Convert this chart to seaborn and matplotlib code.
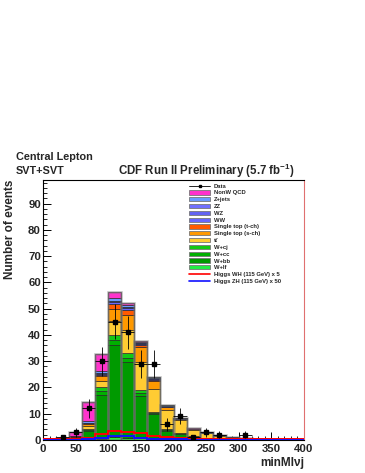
import numpy as np
import pandas as pd
import matplotlib
matplotlib.use("Agg")
import matplotlib.pyplot as plt
import seaborn as sns
from matplotlib.patches import Patch
from matplotlib.lines import Line2D
from matplotlib.ticker import MultipleLocator

# ---------------- data ----------------
bin_edges = list(range(0, 420, 20))
bin_centers = [10 + 20 * i for i in range(20)]

w_lf  = [0.00, 0.00, 0.05, 0.10, 0.50, 1.00, 0.90, 0.70, 0.40, 0.20, 0.10, 0.05, 0.05, 0.03, 0.02, 0.00, 0.00, 0.00, 0.00, 0.00]
w_bb  = [0.05, 0.20, 0.80, 3.50, 16.7, 35.1, 28.9, 16.0, 9.50, 3.30, 2.20, 1.20, 0.70, 0.45, 0.30, 0.15, 0.10, 0.05, 0.03, 0.02]
w_cc  = [0.00, 0.05, 0.10, 0.30, 1.30, 1.90, 1.60, 1.10, 0.45, 0.40, 0.20, 0.10, 0.05, 0.04, 0.03, 0.02, 0.00, 0.00, 0.00, 0.00]
w_cj  = [0.00, 0.00, 0.10, 0.30, 1.50, 2.00, 1.60, 1.20, 0.45, 0.40, 0.20, 0.10, 0.05, 0.04, 0.03, 0.02, 0.00, 0.00, 0.00, 0.00]
ttbar = [0.02, 0.05, 0.15, 1.00, 2.50, 5.40, 8.80, 10.8, 8.80, 7.20, 4.80, 2.40, 1.70, 1.10, 0.75, 0.35, 0.20, 0.12, 0.08, 0.05]
stop_s = [0.00, 0.00, 0.10, 0.80, 1.80, 4.60, 5.70, 5.70, 3.00, 1.00, 0.50, 0.30, 0.20, 0.12, 0.08, 0.04, 0.03, 0.03, 0.01, 0.01]
stop_t = [0.00, 0.00, 0.05, 0.30, 0.50, 1.70, 2.00, 0.60, 0.40, 0.20, 0.10, 0.05, 0.03, 0.02, 0.01, 0.00, 0.00, 0.00, 0.00, 0.00]
ww    = [0.00, 0.00, 0.05, 0.20, 0.40, 0.80, 0.70, 0.50, 0.30, 0.20, 0.10, 0.05, 0.03, 0.02, 0.02, 0.01, 0.00, 0.00, 0.00, 0.00]
wz    = [0.00, 0.00, 0.02, 0.10, 0.30, 0.40, 0.40, 0.30, 0.20, 0.10, 0.05, 0.03, 0.02, 0.01, 0.01, 0.00, 0.00, 0.00, 0.00, 0.00]
zz    = [0.00, 0.00, 0.01, 0.05, 0.10, 0.10, 0.10, 0.10, 0.05, 0.05, 0.02, 0.01, 0.01, 0.01, 0.00, 0.00, 0.00, 0.00, 0.00, 0.00]
zjets = [0.00, 0.00, 0.10, 0.50, 0.85, 0.90, 0.70, 0.50, 0.25, 0.20, 0.13, 0.06, 0.04, 0.04, 0.03, 0.01, 0.02, 0.00, 0.00, 0.00]
qcd   = [0.20, 0.60, 1.40, 7.25, 6.25, 2.50, 0.70, 0.10, 0.05, 0.05, 0.10, 0.05, 0.02, 0.02, 0.02, 0.00, 0.00, 0.00, 0.00, 0.00]

data_counts = [0, 1, 3, 12, 30, 45, 41, 29, 29, 6, 9, 1, 3, 2, 0, 2, 0, 0, 0, 0]
higgs_wh_x5  = [0.3, 0.3, 0.3, 0.6, 2.3, 3.5, 3.2, 2.5, 1.5, 1.0, 0.6, 0.4, 0.35, 0.3, 0.3, 0.3, 0.3, 0.3, 0.3, 0.3]
higgs_zh_x50 = [0.0, 0.0, 0.0, 0.2, 0.8, 1.5, 1.4, 0.9, 0.5, 0.3, 0.2, 0.1, 0.1, 0.05, 0.05, 0.05, 0.0, 0.0, 0.0, 0.0]

# stack order: top -> bottom (legend order)
process_names = ["NonW QCD", "Z+jets", "ZZ", "WZ", "WW", "Single top (t-ch)",
                 "Single top (s-ch)", "ttbar", "W+cj", "W+cc", "W+bb", "W+lf"]
process_values = [qcd, zjets, zz, wz, ww, stop_t, stop_s, ttbar, w_cj, w_cc, w_bb, w_lf]
legend_labels = ["NonW QCD", "Z+jets", "ZZ", "WZ", "WW", "Single top (t-ch)",
                 "Single top (s-ch)", "tt\u0304", "W+cj", "W+cc", "W+bb", "W+lf"]
colors = ["#ff33cc", "#6a9cff", "#7070ff", "#6262f2", "#6666ff", "#ff5a00",
          "#ff9900", "#ffcc33", "#14c814", "#00b000", "#009a00", "#22ee44"]

# ---------------- style ----------------
sns.set_theme(style="ticks")
plt.rcParams["font.family"] = ["Liberation Sans", "DejaVu Sans"]
plt.rcParams["font.weight"] = "bold"
plt.rcParams["mathtext.fontset"] = "custom"
plt.rcParams["mathtext.rm"] = "Liberation Sans:bold"
plt.rcParams["mathtext.bf"] = "Liberation Sans:bold"
plt.rcParams["mathtext.it"] = "Liberation Sans:bold"

fig = plt.figure(figsize=(3.65, 4.73), dpi=100)
W, H = 365, 473
ax = fig.add_axes([43 / W, 1 - 440 / H, (304 - 43) / W, (440 - 180) / H])
ax.set_facecolor("white")

rows = []
for name, vals in zip(process_names, process_values):
    for c, v in zip(bin_centers, vals):
        rows.append({"m": c, "w": v, "process": name})
df = pd.DataFrame(rows)

sns.histplot(data=df, x="m", weights="w", hue="process", hue_order=process_names,
             multiple="stack", bins=bin_edges, element="bars",
             palette=dict(zip(process_names, colors)), alpha=1.0,
             edgecolor="#202020", linewidth=0.45, legend=False, ax=ax)

totals = np.sum(np.array(process_values), axis=0)
ax.bar(bin_centers, totals, width=20, fill=False, edgecolor=(0.45, 0.45, 0.45, 0.5),
       linewidth=1.8, zorder=3)

ax.stairs(higgs_wh_x5, bin_edges, color="red", linewidth=1.4, zorder=4)
ax.stairs(higgs_zh_x50, bin_edges, color="#1010ff", linewidth=1.4, zorder=4)

dc = np.array(data_counts, dtype=float)
mask = dc > 0
xc = np.array(bin_centers)[mask]
ax.errorbar(xc, dc[mask], yerr=np.sqrt(dc[mask]), xerr=10, fmt="s", ms=2.2,
            color="black", ecolor="black", elinewidth=0.6, capsize=0, zorder=5)

ax.set_xlim(0, 400)
ax.set_ylim(0, 99)
ax.xaxis.set_major_locator(MultipleLocator(50))
ax.xaxis.set_minor_locator(MultipleLocator(10))
ax.yaxis.set_major_locator(MultipleLocator(10))
ax.yaxis.set_minor_locator(MultipleLocator(2))
ax.tick_params(axis="both", which="major", direction="in", length=5.8, width=0.7,
               labelsize=8.2, color="black", top=False, right=False)
ax.tick_params(axis="both", which="minor", direction="in", length=2.9, width=0.6,
               color="black", top=False, right=False)
ax.tick_params(axis="x", which="major", pad=3.0)
ax.tick_params(axis="y", which="major", pad=1.5)
for lbl in ax.get_xticklabels() + ax.get_yticklabels():
    lbl.set_fontweight("bold")
for side in ["left", "bottom", "top"]:
    ax.spines[side].set_color("black")
    ax.spines[side].set_linewidth(0.8)
ax.spines["right"].set_color("#e07070")
ax.spines["right"].set_linewidth(0.8)

ax.set_ylabel("Number of events", fontsize=8.5, fontweight="bold", loc="top")
ax.yaxis.set_label_coords(-27 / 261, 1.0)
ax.set_xlabel("minMl\u03bdj", fontsize=8.5, fontweight="bold", loc="right", labelpad=2)

fig.text(16 / W, 1 - 157 / H, "Central Lepton", fontsize=7.8, fontweight="bold",
         va="center", ha="left")
fig.text(16 / W, 1 - 171 / H, "SVT+SVT", fontsize=7.8, fontweight="bold",
         va="center", ha="left")
fig.text(118 / W, 1 - 171 / H, r"CDF Run II Preliminary (5.7 fb$^{\mathbf{-1}}$)",
         fontsize=8.3, fontweight="bold", va="center", ha="left")

# legend
handles = [Line2D([0], [0], color="black", lw=0.6, marker="s", ms=2.0)]
labels = ["Data"]
for lab, col in zip(legend_labels, colors):
    handles.append(Patch(facecolor=col, edgecolor="#777777", linewidth=0.6))
    labels.append(lab)
handles.append(Line2D([0], [0], color="red", lw=1.2))
labels.append("Higgs WH (115 GeV) x 5")
handles.append(Line2D([0], [0], color="#1010ff", lw=1.2))
labels.append("Higgs ZH (115 GeV) x 50")
leg = fig.legend(handles, labels, loc="upper left", bbox_to_anchor=(189 / W, 1 - 183.5 / H),
                 frameon=False, fontsize=4.2, handlelength=3.6, handleheight=0.75,
                 handletextpad=0.7, labelspacing=0.28, borderpad=0, borderaxespad=0)
for t in leg.get_texts():
    t.set_fontweight("bold")

fig.savefig("out.png", dpi=100)
